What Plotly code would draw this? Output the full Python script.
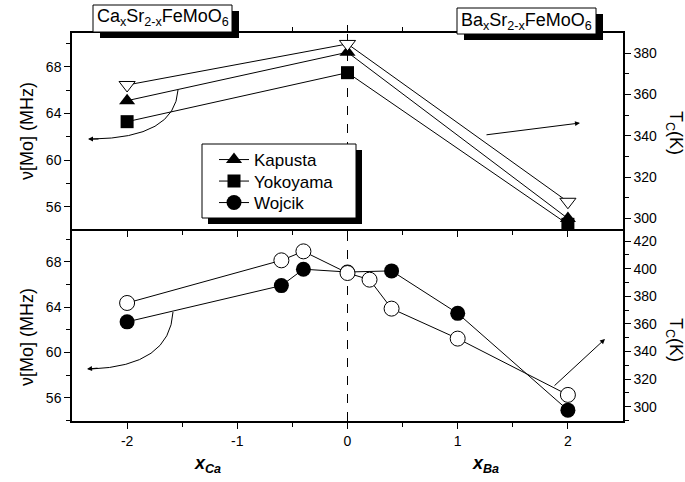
import plotly.graph_objects as go

# ---------------- data ----------------
x_top = [-2, 0, 2]
kapusta_nu = [65.1, 69.25, 55.0]
yokoyama_nu = [63.3, 67.5, 54.5]
tc_top = [364.6, 384.5, 308.0]

x_wojcik_nu = [-2, -0.6, -0.4, 0, 0.4, 1, 2]
wojcik_nu = [62.7, 65.9, 67.35, 67.1, 67.2, 63.45, 54.9]
x_wojcik_tc = [-2, -0.6, -0.4, 0, 0.2, 0.4, 1, 2]
wojcik_tc = [375.1, 406.0, 412.5, 396.8, 392.0, 371.0, 349.3, 308.5]

x_tickvals = [-2, -1, 0, 1, 2]
x_ticktext = ["-2", "-1", "0", "1", "2"]
nu_ticks = [56, 60, 64, 68]
tc_top_ticks = [300, 320, 340, 360, 380]
tc_bot_ticks = [300, 320, 340, 360, 380, 400, 420]

# ---------------- geometry helpers ----------------
W, H = 685, 482
L, R, T, B = 72, 62, 33, 61
PW, PH = W - L - R, H - T - B


def px(x):
    return (x - L) / PW


def py(y):
    return (H - B - y) / PH


split = py(229)
FONT = "Arial, Liberation Sans, sans-serif"

fig = go.Figure()

# top panel
fig.add_trace(go.Scatter(x=x_top, y=kapusta_nu, xaxis="x2", yaxis="y3", mode="lines+markers",
                         name="Kapusta", legend="legend", line=dict(color="black", width=1),
                         marker=dict(symbol="triangle-up", size=14, color="black")))
fig.add_trace(go.Scatter(x=x_top, y=yokoyama_nu, xaxis="x2", yaxis="y3", mode="lines+markers",
                         name="Yokoyama", legend="legend2", line=dict(color="black", width=1),
                         marker=dict(symbol="square", size=13, color="black")))
fig.add_trace(go.Scatter(x=x_top, y=tc_top, xaxis="x2", yaxis="y4", mode="lines+markers",
                         name="Tc", showlegend=False, line=dict(color="black", width=1),
                         marker=dict(symbol="triangle-down", size=14, color="white",
                                     line=dict(color="black", width=1))))
# bottom panel
fig.add_trace(go.Scatter(x=x_wojcik_nu, y=wojcik_nu, xaxis="x", yaxis="y", mode="lines+markers",
                         name="Wojcik", legend="legend3", line=dict(color="black", width=1),
                         marker=dict(symbol="circle", size=15, color="black")))
fig.add_trace(go.Scatter(x=x_wojcik_tc, y=wojcik_tc, xaxis="x", yaxis="y2", mode="lines+markers",
                         name="Wojcik Tc", showlegend=False, line=dict(color="black", width=1),
                         marker=dict(symbol="circle", size=15, color="white",
                                     line=dict(color="black", width=1))))

axis_common = dict(showgrid=False, zeroline=False, showline=True, linecolor="black", linewidth=1.5,
                   tickcolor="black", tickfont=dict(family=FONT, size=14, color="black"))


def leg(top):
    return dict(x=px(214), y=py(top), xanchor="left", yanchor="top", bgcolor="rgba(0,0,0,0)",
                borderwidth=0, font=dict(family=FONT, size=17, color="black"), tracegroupgap=0)


fig.update_layout(
    width=W, height=H,
    margin=dict(l=L, r=R, t=T, b=B),
    paper_bgcolor="white", plot_bgcolor="white",
    font=dict(family=FONT, color="black"),
    xaxis=dict(domain=[0, 1], anchor="y", range=[-2.5, 2.5], tickmode="array",
               tickvals=x_tickvals, ticktext=x_ticktext, ticks="outside", ticklen=6, mirror=False,
               minor=dict(tickvals=[-1.5, -0.5, 0.5, 1.5], ticks="outside", ticklen=4, tickcolor="black"),
               **axis_common),
    xaxis2=dict(domain=[0, 1], anchor="y3", range=[-2.5, 2.5], tickmode="array",
                tickvals=x_tickvals, showticklabels=False, ticks="outside", ticklen=6, mirror="ticks",
                minor=dict(tickvals=[-1.5, -0.5, 0.5, 1.5], ticks="outside", ticklen=4, tickcolor="black"),
                **axis_common),
    yaxis=dict(domain=[0, split], anchor="x", range=[53.94, 70.9], tickmode="array",
               tickvals=nu_ticks, ticks="outside", ticklen=6,
               minor=dict(tickvals=[54, 58, 62, 66, 70], ticks="outside", ticklen=4, tickcolor="black"),
               **axis_common),
    yaxis2=dict(overlaying="y", side="right", anchor="x", range=[289.6, 428.7], tickmode="array",
                tickvals=tc_bot_ticks, ticks="outside", ticklen=6,
                minor=dict(tickvals=[290, 310, 330, 350, 370, 390, 410], ticks="outside", ticklen=4,
                           tickcolor="black"),
                **axis_common),
    yaxis3=dict(domain=[split, 1], anchor="x2", range=[54.1, 70.9], tickmode="array",
                tickvals=nu_ticks, ticks="outside", ticklen=6,
                minor=dict(tickvals=[58, 62, 66, 70], ticks="outside", ticklen=4, tickcolor="black"),
                **axis_common),
    yaxis4=dict(overlaying="y3", side="right", anchor="x2", range=[294.8, 389.8], tickmode="array",
                tickvals=tc_top_ticks, ticks="outside", ticklen=6,
                minor=dict(tickvals=[310, 330, 350, 370], ticks="outside", ticklen=4, tickcolor="black"),
                **axis_common),
    showlegend=True,
    legend=leg(142),
    legend2=leg(163.5),
    legend3=leg(185),
)

shapes = []
# dashed vertical line at x = 0
shapes.append(dict(type="line", xref="x", yref="paper", x0=0, x1=0, y0=0, y1=1,
                   line=dict(color="black", width=1, dash="dash"), layer="below"))


def boxed(x0, y0, x1, y1, dx=7, dy=6):
    shapes.append(dict(type="rect", xref="paper", yref="paper", x0=px(x0 + dx), x1=px(x1 + dx),
                       y0=py(y1 + dy), y1=py(y0 + dy), fillcolor="black", line=dict(width=0), layer="above"))
    shapes.append(dict(type="rect", xref="paper", yref="paper", x0=px(x0), x1=px(x1),
                       y0=py(y1), y1=py(y0), fillcolor="white", line=dict(color="black", width=1),
                       layer="above"))


boxed(93, 5, 232, 32)
boxed(457, 8, 596, 34)
boxed(202, 144, 356, 218, dx=6, dy=6)

# curved arrows
shapes.append(dict(type="path", xref="paper", yref="paper", layer="above",
                   path=f"M {px(178)},{py(90)} Q {px(175)},{py(138)} {px(92)},{py(139)}",
                   line=dict(color="black", width=1)))
shapes.append(dict(type="path", xref="paper", yref="paper", layer="above",
                   path=f"M {px(173)},{py(312)} Q {px(170)},{py(366)} {px(91)},{py(369)}",
                   line=dict(color="black", width=1)))
fig.update_layout(shapes=shapes)

C = dict(xref="paper", yref="paper", showarrow=False, xanchor="center", yanchor="middle")
ann = []
ann.append(dict(text="Ca<sub>x</sub>Sr<sub>2-x</sub>FeMoO<sub>6</sub>", x=px(162.5), y=py(18),
                font=dict(size=18, family=FONT), **C))
ann.append(dict(text="Ba<sub>x</sub>Sr<sub>2-x</sub>FeMoO<sub>6</sub>", x=px(526.5), y=py(21),
                font=dict(size=18, family=FONT), **C))
# axis titles
for yc in (131, 337):
    ann.append(dict(text="\u03bd[Mo] (MHz)", x=px(27), y=py(yc), textangle=-90,
                    font=dict(size=18, family=FONT), **C))
for yc in (133, 340):
    ann.append(dict(text="T<sub>C</sub>(K)", x=px(675), y=py(yc), textangle=90,
                    font=dict(size=18, family=FONT), **C))
ann.append(dict(text="<b><i>x</i></b><sub><b><i>Ca</i></b></sub>", x=px(207), y=py(464),
                font=dict(size=18, family=FONT), **C))
ann.append(dict(text="<b><i>x</i></b><sub><b><i>Ba</i></b></sub>", x=px(485), y=py(464),
                font=dict(size=18, family=FONT), **C))
# arrowheads
arrow_style = dict(xref="paper", yref="paper", text="", showarrow=True, arrowhead=2, arrowsize=1,
                   arrowwidth=1, arrowcolor="black", standoff=0)
ann.append(dict(x=px(88), y=py(139), ax=12, ay=0, **arrow_style))
ann.append(dict(x=px(87), y=py(369), ax=12, ay=-1, **arrow_style))
ann.append(dict(x=px(580), y=py(123), ax=-95, ay=12, **arrow_style))
ann.append(dict(x=px(605), y=py(339), ax=-52, ay=48, **arrow_style))
fig.update_layout(annotations=ann)

fig.write_html("out.html", config={"displayModeBar": False},
               post_script="document.body.style.margin='0px';")
